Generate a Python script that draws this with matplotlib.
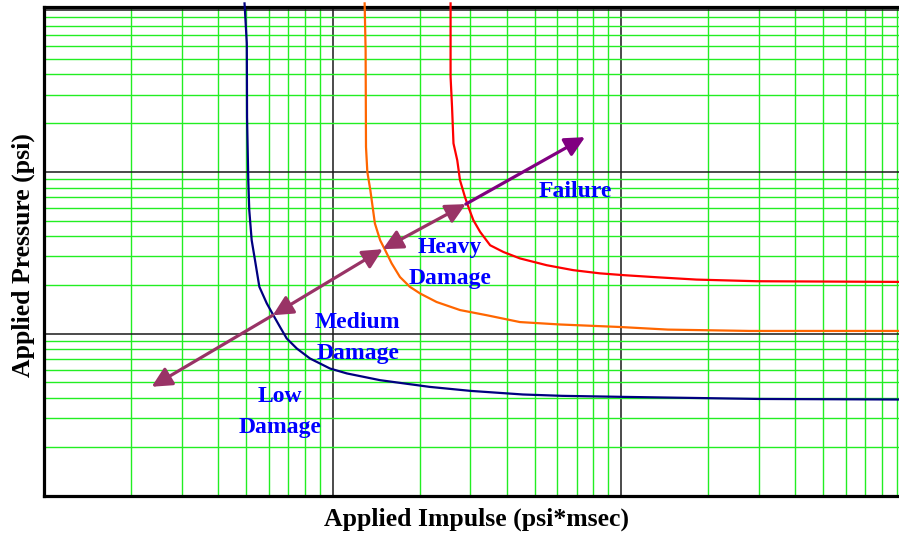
import numpy as np
import matplotlib
matplotlib.use("Agg")
import matplotlib.pyplot as plt
from matplotlib.ticker import LogLocator, NullFormatter

# pressure-impulse curves (psi*msec, psi)
low_x = [4.95, 5.04, 5.05, 5.10, 5.14, 5.24, 5.38, 5.57, 5.91, 6.23, 6.57, 6.93,
         7.51, 8.34, 9.79, 11.2, 14.6, 21.7, 30.1, 45.6, 62.3, 101, 302, 915]
low_y = [1100, 624, 218, 88.9, 58.0, 37.8, 28.5, 19.5, 15.4, 13.0, 11.0, 9.34,
         8.10, 7.03, 6.09, 5.68, 5.16, 4.69, 4.43, 4.21, 4.13, 4.07, 3.95, 3.92]

heavy_x = [12.9, 13.0, 13.04, 13.18, 13.5, 14.0, 14.6, 15.2, 16.0, 17.1, 18.5,
           20.1, 22.9, 27.6, 34.2, 44.5, 61.3, 98.9, 145, 279, 915]
heavy_y = [1100, 565, 142.7, 100, 77.1, 48.0, 37.8, 32.8, 27.2, 22.4, 19.5,
           17.7, 15.7, 14.0, 13.0, 11.8, 11.4, 11.0, 10.6, 10.4, 10.4]

fail_x = [25.6, 25.6, 25.9, 26.2, 27.0, 27.6, 28.7, 29.5, 30.7, 32.4, 35.1,
          39.0, 44.5, 55.1, 68.1, 84.3, 102, 134, 182, 294, 915]
fail_y = [1100, 387, 252, 150, 118, 88.8, 70.1, 60.8, 50.3, 42.6, 35.2,
          32.0, 29.2, 26.5, 24.7, 23.6, 23.0, 22.3, 21.6, 21.1, 20.9]

# arrow end points (impulse, pressure)
arrow_pts = {
    "low": [(6.2, 13.0), (2.36, 4.7)],
    "medium": [(14.9, 33.3), (6.2, 13.0)],
    "heavy": [(28.9, 63.2), (14.9, 33.3)],
    "failure": [(28.9, 63.2), (74.8, 164)],
}

labels = ["Low\nDamage", "Medium\nDamage", "Heavy\nDamage", "Failure"]
label_pos = [(6.57, 3.29), (12.2, 9.45), (25.5, 27.3), (69.1, 75.2)]

fig = plt.figure(figsize=(8.99, 5.38), dpi=100)
ax = fig.add_axes([44 / 899, 42.5 / 538, 855 / 899, 488.5 / 538])
ax.set_xscale("log")
ax.set_yscale("log")
ax.set_xlim(1, 915)
ax.set_ylim(1, 1045)

for a in (ax.xaxis, ax.yaxis):
    a.set_major_locator(LogLocator(base=10, subs=(1.0,), numticks=10))
    a.set_minor_locator(LogLocator(base=10, subs=np.arange(2, 10), numticks=20))
    a.set_minor_formatter(NullFormatter())
    a.set_major_formatter(NullFormatter())
ax.tick_params(which="both", length=0)
ax.grid(which="minor", color="#22ee22", lw=1.0)
ax.grid(which="major", color="#1a1a1a", lw=1.1)
ax.set_axisbelow(True)

for s in ("left", "bottom", "top"):
    ax.spines[s].set_linewidth(2.3)
    ax.spines[s].set_color("black")
ax.spines["right"].set_visible(False)

ax.plot(low_x, low_y, color="#000080", lw=1.6, clip_on=False, zorder=3)
ax.plot(heavy_x, heavy_y, color="#ff6600", lw=1.6, clip_on=False, zorder=3)
ax.plot(fail_x, fail_y, color="#ff0000", lw=1.6, clip_on=False, zorder=3)

styles = {"low": "-|>", "medium": "<|-|>", "heavy": "<|-|>", "failure": "-|>"}
colors = {"low": "#993366", "medium": "#993366", "heavy": "#993366", "failure": "#800080"}
for k, (p0, p1) in arrow_pts.items():
    ax.annotate("", xy=p1, xytext=p0,
                arrowprops=dict(arrowstyle=styles[k] + ",head_length=0.6,head_width=0.3",
                                color=colors[k], lw=2.3, mutation_scale=20,
                                shrinkA=0, shrinkB=0),
                zorder=4)

for t, (x, y) in zip(labels, label_pos):
    ax.text(x, y, t, ha="center", va="center", color="#0000ff", fontsize=17,
            fontweight="bold", family="Liberation Serif", linespacing=1.62, zorder=5)

fig.text(476 / 899, 1 - 519 / 538, "Applied Impulse (psi*msec)", ha="center", va="center",
         fontsize=18.5, fontweight="bold", family="Liberation Serif")
fig.text(23 / 899, 1 - 255 / 538, "Applied Pressure (psi)", ha="center", va="center",
         rotation=90, fontsize=18.5, fontweight="bold", family="Liberation Serif")

fig.savefig("out.png", dpi=100)
